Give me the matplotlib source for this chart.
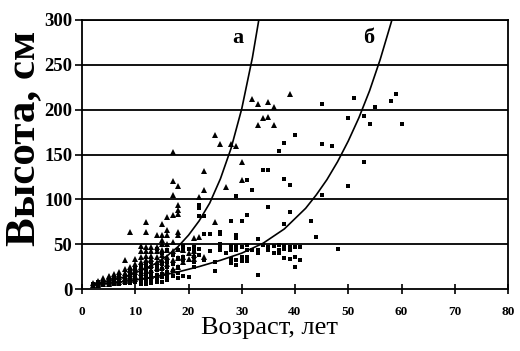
import matplotlib
matplotlib.use("Agg")
import matplotlib.pyplot as plt

# series "а" (triangles): age and the heights measured at that age
ages_a = [2, 3, 4, 5, 6, 7, 8, 9, 10, 11, 12, 13, 14, 15, 16, 17, 18, 19, 20,
          21, 22, 23, 25, 26, 27, 28, 29, 30, 32, 33, 34, 35, 36, 39]
heights_a = [
    [5, 7], [5, 7, 9], [6, 8, 10, 12], [6, 8, 10, 13, 15], [7, 9, 11, 14, 17],
    [8, 10, 13, 16, 19], [9, 12, 15, 18, 22, 32], [10, 13, 17, 21, 25, 64],
    [11, 15, 19, 23, 28, 33], [13, 18, 24, 30, 36, 42, 48],
    [14, 20, 26, 32, 37, 42, 47, 64, 75], [15, 21, 27, 33, 37, 42, 47],
    [16, 23, 30, 36, 42, 47, 60], [18, 25, 32, 38, 44, 50, 55, 60, 72],
    [20, 28, 36, 44, 50, 60, 66, 80], [22, 32, 42, 52, 82, 105, 121, 153],
    [25, 35, 45, 60, 64, 84, 88, 94, 115], [30, 36, 44], [33, 40],
    [33, 38, 42, 57], [58, 103], [36, 110, 132], [75, 172], [162], [114],
    [162], [160], [122, 142], [212], [183, 206], [191], [192, 209],
    [183, 203], [217],
]

# series "б" (squares)
ages_b = [2, 3, 4, 5, 6, 7, 8, 9, 10, 11, 12, 13, 14, 15, 16, 17, 18, 19, 20,
          21, 22, 23, 24, 25, 26, 27, 28, 29, 30, 31, 32, 33, 34, 35, 36, 37,
          38, 39, 40, 41, 43, 44, 45, 47, 48, 50, 51, 53, 54, 55, 58, 59, 60]
heights_b = [
    [4, 6], [4, 6, 8], [5, 7, 9], [5, 7, 9, 11], [6, 8, 10, 12],
    [6, 8, 11, 13], [7, 9, 12, 15], [7, 10, 13, 16, 20], [8, 11, 14, 18, 22],
    [6, 9, 12, 16, 20, 25], [6, 10, 14, 18, 22, 27], [7, 11, 15, 19, 24, 30],
    [8, 12, 16, 21, 26, 45], [8, 13, 17, 22, 28, 40], [10, 14, 19, 24, 30, 43],
    [15, 20, 28, 38], [12, 18, 24, 35, 44], [15, 32, 36, 44, 48], [13, 45],
    [24, 30, 36, 42, 47], [38, 45, 81, 90, 94], [32, 61, 81], [42, 61],
    [20, 30], [44, 47, 50, 61, 64], [40], [29, 34, 44, 48, 76],
    [27, 32, 44, 48, 57, 60, 104], [31, 36, 47, 76], [31, 36, 44, 49, 83, 122],
    [44, 110], [16, 40, 44, 56], [49, 133], [44, 47, 91, 133], [40, 48],
    [40, 44, 49, 154], [35, 45, 48, 73, 123, 163], [34, 44, 47, 86, 116],
    [24, 36, 47, 172], [32, 47], [76], [58], [105, 162, 206], [160], [45],
    [115, 191], [213], [142, 193], [184], [203], [210], [217], [184],
]

# trend curves
curve_a_x = [2, 4, 6, 8, 10, 12, 14, 16, 18, 20, 22, 24, 26, 28, 30, 32, 33.2]
curve_a_y = [6, 8, 10.5, 13.5, 18, 23, 29, 37, 47, 60, 76, 96, 123, 157, 201,
             258, 300]
curve_b_x = [2, 6, 10, 14, 18, 22, 26, 30, 34, 38, 42, 44, 46, 48, 50, 52, 54,
             56, 58, 58.3]
curve_b_y = [5, 7, 10, 14, 19, 25, 32, 40, 51, 67, 90, 105, 122, 142, 165,
             191, 221, 256, 296, 302]

x_ticks = [0, 10, 20, 30, 40, 50, 60, 70, 80]
y_ticks = [0, 50, 100, 150, 200, 250, 300]


def flatten(ages, heights):
    xs, ys = [], []
    for age, hs in zip(ages, heights):
        for h in hs:
            xs.append(age)
            ys.append(h)
    return xs, ys


plt.rcParams["font.family"] = "Liberation Serif"

fig = plt.figure(figsize=(5.2, 3.51), dpi=100)
ax = fig.add_axes([82 / 520, 1 - 289 / 351, 426 / 520, 269 / 351])

for y in y_ticks[1:]:
    ax.axhline(y, color="black", lw=1.3, zorder=1)

xa, ya = flatten(ages_a, heights_a)
xb, yb = flatten(ages_b, heights_b)
ax.plot(xb, yb, "s", color="black", ms=2.8, mew=0, zorder=3)
ax.plot(xa, ya, "^", color="black", ms=3.8, mew=0, zorder=3)

ax.plot(curve_a_x, curve_a_y, color="black", lw=1.2, zorder=4)
ax.plot(curve_b_x, curve_b_y, color="black", lw=1.2, zorder=4)

ax.text(29.2, 280, "а", fontsize=16, fontweight="bold", ha="center", va="center")
ax.text(53.8, 280, "б", fontsize=16, fontweight="bold", ha="center", va="center")

ax.set_xlim(0, 80)
ax.set_ylim(0, 300)
ax.set_xticks(x_ticks)
ax.set_yticks(y_ticks)
ax.set_xticklabels([str(t) for t in x_ticks], fontsize=9.5, fontweight="bold")
ax.set_yticklabels([str(t) for t in y_ticks], fontsize=13.5, fontweight="bold")
ax.tick_params(axis="x", direction="inout", length=7, width=1.2, pad=9)
ax.tick_params(axis="y", direction="out", length=5, width=1.2, pad=2)
for s in ax.spines.values():
    s.set_linewidth(1.3)

ax.set_xlabel("Возраст, лет", fontsize=19)
ax.xaxis.set_label_coords(0.441, -0.105)
ax.set_ylabel("Высота, см", fontsize=31, fontweight="bold")
ax.yaxis.set_label_coords(-0.092, 0.56)

fig.savefig("out.png", dpi=100)
